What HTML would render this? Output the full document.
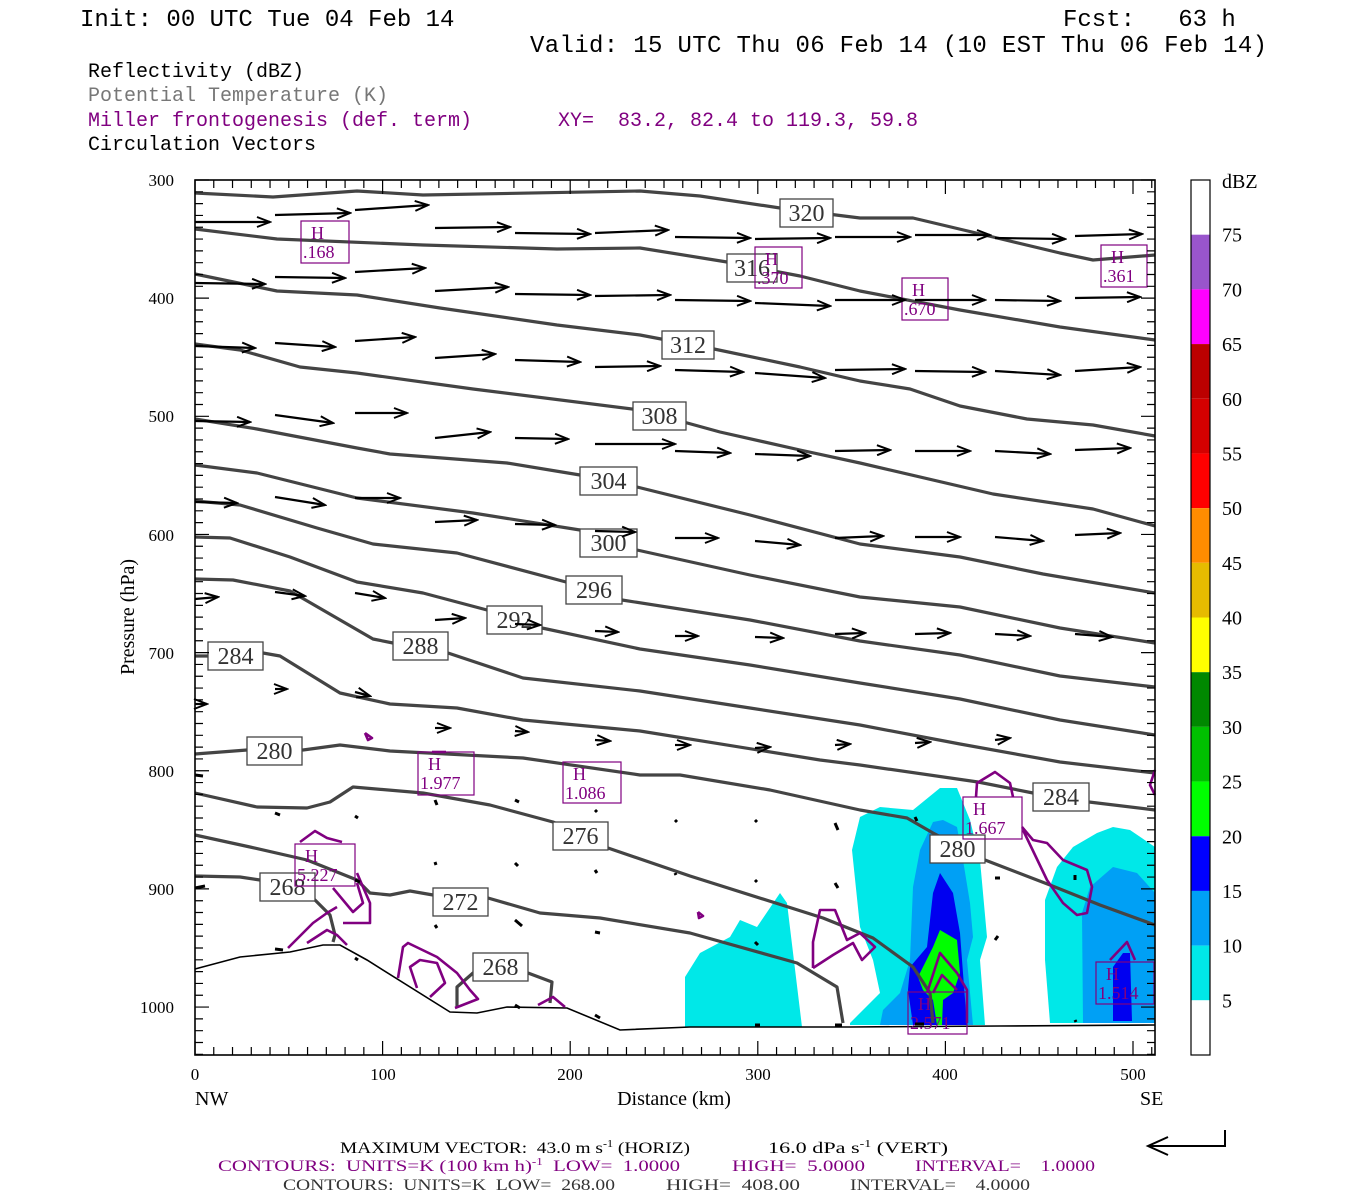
<!DOCTYPE html>
<html><head><meta charset="utf-8">
<style>
html,body{margin:0;padding:0;background:#fff;}
svg{display:block;}
svg text{white-space:pre;}
.hd{font-family:"Liberation Mono",monospace;}
.sr{font-family:"Liberation Serif",serif;}
</style></head>
<body>
<svg id="s" width="1350" height="1200" viewBox="0 0 1350 1200" xmlns="http://www.w3.org/2000/svg" xml:space="preserve">
<defs>
<marker id="ah" markerWidth="16" markerHeight="12" refX="14" refY="6" orient="auto" markerUnits="userSpaceOnUse">
<path d="M1,1 L14,6 L1,11" fill="none" stroke="#000" stroke-width="2"/>
</marker>
</defs>
<rect width="1350" height="1200" fill="#fff"/>
<g class="hd" font-size="24">
<text x="80" y="26" fill="#000">Init: 00 UTC Tue 04 Feb 14</text>
<text x="1063" y="26" fill="#000">Fcst:   63 h</text>
<text x="530" y="52" fill="#000" textLength="737">Valid: 15 UTC Thu 06 Feb 14 (10 EST Thu 06 Feb 14)</text>
</g>
<g class="hd" font-size="20">
<text x="88" y="77" fill="#000">Reflectivity (dBZ)</text>
<text x="88" y="101" fill="#777">Potential Temperature (K)</text>
<text x="88" y="126" fill="#800080">Miller frontogenesis (def. term)</text>
<text x="558" y="126" fill="#800080">XY=  83.2, 82.4 to 119.3, 59.8</text>
<text x="88" y="150" fill="#000">Circulation Vectors</text>
</g>

<g stroke="none">
<polygon fill="#00e8e8" points="685,977 700,953 730,937 740,920 757,927 780,893 787,903 802,1027 685,1027"/>
<polygon fill="#00e8e8" points="850,1023 880,993 873,960 860,927 852,850 860,817 880,807 913,810 940,788 957,788 970,820 980,860 987,937 980,960 985,1025 850,1025"/>
<polygon fill="#00a0f5" points="883,1010 900,993 910,960 913,887 920,850 933,822 943,820 957,827 963,860 970,903 973,937 967,960 973,1025 880,1025"/>
<polygon fill="#0000f0" points="908,990 910,967 927,947 933,893 940,873 953,893 960,933 963,973 967,1025 913,1025"/>
<polygon fill="#00ff00" points="918,977 933,947 940,930 957,940 960,973 953,993 943,1000 942,1025 937,1025 933,1000 923,990"/>
<polygon fill="#00e8e8" points="1045,900 1057,867 1073,847 1097,833 1113,827 1130,830 1155,847 1155,1023 1050,1023 1045,960"/>
<polygon fill="#00a0f5" points="1082,913 1090,887 1113,867 1137,873 1155,893 1155,1023 1083,1023"/>
<polygon fill="#0000f0" points="1113,967 1123,953 1130,953 1132,1021 1113,1021"/>
</g>

<polyline fill="none" stroke="#000" stroke-width="1.6" points="195,969 240,957 290,952 323,945 340,945 367,960 450,1012 477,1013 507,1007 567,1008 620,1030 690,1027 850,1027 1000,1026 1155,1025"/>

<g fill="none" stroke="#444" stroke-width="3.2" stroke-linejoin="round">
<polyline points="195,193 273,197 357,191 423,195 640,191 700,196 780,208 860,218 913,218 993,237 1060,253 1093,260 1155,255"/>
<polyline points="195,229 277,239 423,245 557,249 640,248 727,262 800,276 860,291 960,310 1060,327 1155,340"/>
<polyline points="195,274 277,291 357,295 440,308 557,325 640,335 714,349 800,367 860,381 910,389 960,406 1027,419 1093,425 1155,436"/>
<polyline points="195,344 240,350 300,367 357,373 473,389 640,410 720,432 800,450 860,463 993,494 1093,509 1155,526"/>
<polyline points="195,419 257,429 357,448 390,454 507,463 580,475 637,487 750,515 860,544 960,557 1043,574 1155,593"/>
<polyline points="195,465 257,473 357,498 473,513 580,530 637,550 750,575 860,597 960,607 1060,628 1155,643"/>
<polyline points="195,501 240,505 317,528 373,544 457,553 566,582 622,600 750,620 860,641 960,655 1060,676 1155,687"/>
<polyline points="195,537 230,538 290,557 357,582 423,593 487,610 542,628 640,649 750,665 860,683 960,699 1060,720 1155,735"/>
<polyline points="195,579 233,580 290,591 373,639 393,643 448,653 523,678 640,691 750,708 860,725 960,744 1060,762 1155,773"/>
<polyline points="195,656 208,656 263,653 280,656 340,693 390,704 457,708 523,720 640,731 820,760 860,765 978,782 1033,793 1089,802 1155,810"/>
<polyline points="195,754 247,750 303,750 340,745 390,751 523,758 640,775 680,775 770,790 860,810 907,818 933,833 985,860 1050,885 1100,905 1155,925"/>
<polyline points="195,793 257,807 307,808 330,802 353,787 423,793 490,805 553,822 608,848 690,876 823,918 873,938 913,967 930,993 933,1023"/>
<polyline points="195,835 250,847 307,860 357,880 370,893 390,895 410,891 433,895 488,898 540,913 600,918 690,933 797,963 837,987 843,1023"/>
<polyline points="195,876 240,877 260,880 315,900 330,915 335,935 333,942"/>
<polyline points="457,1007 457,987 473,973 528,973 552,982 550,1003"/>
</g>

<g fill="none" stroke="#800080" stroke-width="2.6" stroke-linejoin="round">
<polyline points="813,968 813,942 820,910 835,910 847,940 860,933 875,947 862,960 853,943 833,955 813,968"/>
<polyline points="976,797 977,783 995,772 1010,783 1013,797"/>
<polyline points="1022,827 1033,840 1047,843 1063,860 1087,870 1092,887 1087,913 1077,915 1063,903 1047,880 1023,830"/>
<polyline points="927,993 940,953 957,973 967,990 967,1023"/>
<polyline points="933,993 942,975 957,990"/>
<polyline points="1110,960 1127,942 1135,960"/>
<polyline points="1155,770 1150,785 1155,795"/>
<polyline points="300,842 315,831 327,838 342,842"/>
<polyline points="288,948 313,923 327,913 337,907"/>
<polyline points="307,943 327,930 337,935 347,945"/>
<polyline points="333,888 353,912 363,903 357,883"/>
<polyline points="343,923 370,923 370,903 363,887 357,873"/>
<polyline points="398,978 403,947 408,943 437,957 457,973 470,990 478,999 455,1008"/>
<polyline points="417,988 410,967 420,960 437,963 445,983 430,997"/>
<polyline points="538,1005 553,997 565,1007"/>
<polyline points="365,733 372,738 368,740 365,733"/>
<polyline points="698,912 703,916 699,918 698,912"/>
<polyline points="432,752 446,752"/>
</g>

<g class="sr" font-size="24" fill="#333" text-anchor="middle">
<g id="labs"></g>
</g>

<g id="hb" class="sr" font-size="18" fill="#800080"></g>

<g id="arr" stroke="#000" stroke-width="2.2" fill="none"></g>

<rect x="195" y="180" width="960" height="875" fill="none" stroke="#000" stroke-width="1.6"/>
<g id="ticks" stroke="#000" stroke-width="1.2"></g>
<g class="sr" font-size="17" fill="#000" text-anchor="end">
<text x="174" y="186">300</text><text x="174" y="304">400</text><text x="174" y="422">500</text>
<text x="174" y="541">600</text><text x="174" y="659">700</text><text x="174" y="777">800</text>
<text x="174" y="895">900</text><text x="174" y="1013">1000</text>
</g>
<g class="sr" font-size="17" fill="#000" text-anchor="middle">
<text x="195" y="1080">0</text><text x="383" y="1080">100</text><text x="570" y="1080">200</text>
<text x="758" y="1080">300</text><text x="945" y="1080">400</text><text x="1133" y="1080">500</text>
</g>
<g class="sr" font-size="20" fill="#000">
<text x="195" y="1105">NW</text><text x="1140" y="1105">SE</text>
<text x="674" y="1105" text-anchor="middle">Distance (km)</text>
<text transform="translate(134,617) rotate(-90)" text-anchor="middle">Pressure (hPa)</text>
</g>

<g id="cb"></g>
<g class="sr" font-size="20" fill="#000">
<text x="1222" y="188">dBZ</text>
</g>
<g id="cbl" class="sr" font-size="20" fill="#000"></g>

<g class="sr" font-size="16">
<text x="340" y="1153" fill="#000" textLength="350" lengthAdjust="spacingAndGlyphs">MAXIMUM VECTOR:  43.0 m s<tspan dy="-6" font-size="10">-1</tspan><tspan dy="6"> (HORIZ)</tspan></text>
<text x="768" y="1153" fill="#000" textLength="180" lengthAdjust="spacingAndGlyphs">16.0 dPa s<tspan dy="-6" font-size="10">-1</tspan><tspan dy="6"> (VERT)</tspan></text>
<text x="218" y="1171" fill="#800080" textLength="462" lengthAdjust="spacingAndGlyphs">CONTOURS:  UNITS=K (100 km h)<tspan dy="-6" font-size="10">-1</tspan><tspan dy="6">  LOW=  1.0000</tspan></text>
<text x="732" y="1171" fill="#800080" textLength="133" lengthAdjust="spacingAndGlyphs">HIGH=  5.0000</text>
<text x="915" y="1171" fill="#800080" textLength="180" lengthAdjust="spacingAndGlyphs">INTERVAL=    1.0000</text>
<text x="283" y="1190" fill="#333" textLength="332" lengthAdjust="spacingAndGlyphs">CONTOURS:  UNITS=K  LOW=  268.00</text>
<text x="666" y="1190" fill="#333" textLength="134" lengthAdjust="spacingAndGlyphs">HIGH=  408.00</text>
<text x="850" y="1190" fill="#333" textLength="180" lengthAdjust="spacingAndGlyphs">INTERVAL=    4.0000</text>
</g>
<polyline points="1225,1130 1225,1146 1148,1146" fill="none" stroke="#000" stroke-width="2"/>
<polyline points="1168,1137 1148,1146 1168,1155" fill="none" stroke="#000" stroke-width="2"/>
</svg>
<script>
var NS="http://www.w3.org/2000/svg";
function el(p,t,a,txt){var e=document.createElementNS(NS,t);for(var k in a)e.setAttribute(k,a[k]);if(txt!==undefined)e.textContent=txt;p.appendChild(e);return e;}
var L=[["320",780,199,53],["316",727,254,50],["312",662,331,52],["308",633,402,53],["304",580,467,57],["300",580,529,57],["296",566,576,56],["292",487,606,55],["288",393,632,55],["284",208,642,55],["280",247,737,55],["284",1033,783,56],["280",930,835,55],["276",553,822,55],["272",433,888,55],["268",260,873,55],["268",473,953,55]];
var lg=document.getElementById("labs");
L.forEach(function(l){el(lg,"rect",{x:l[1],y:l[2],width:l[3],height:28,fill:"#fff",stroke:"#444","stroke-width":1.3});el(lg,"text",{x:l[1]+l[3]/2,y:l[2]+22},l[0]);});
var H=[[".168",301,221,48,42],[".370",755,247,47,41],[".670",902,278,46,42],[".361",1101,245,46,42],["1.977",418,752,56,43],["1.086",563,762,58,41],["5.227",295,844,60,42],["1.667",963,797,59,42],["2.571",908,992,59,42],["1.514",1096,962,58,42]];
var hb=document.getElementById("hb");
H.forEach(function(h){el(hb,"rect",{x:h[1],y:h[2],width:h[3],height:h[4],fill:"none",stroke:"#800080","stroke-width":1.2});el(hb,"text",{x:h[1]+10,y:h[2]+18},"H");el(hb,"text",{x:h[1]+2,y:h[2]+37},h[0]);});
var A=[
[195,222,270,222],[275,215,350,213],[355,210,428,205],[435,228,510,227],[515,233,590,234],[595,233,668,230],[675,237,750,238],[755,239,830,238],[835,237,910,237],[915,235,990,235],[995,238,1065,239],[1075,236,1142,234],
[195,283,265,284],[275,277,345,278],[355,272,425,268],[435,291,508,287],[515,294,590,295],[595,296,670,295],[675,300,750,301],[755,303,830,306],[835,300,905,300],[915,300,985,300],[995,300,1060,301],[1075,298,1140,297],
[195,346,255,348],[275,343,335,347],[355,341,415,337],[435,358,495,354],[515,360,580,362],[595,367,660,366],[675,370,743,372],[755,373,825,378],[835,370,905,369],[915,371,985,372],[995,371,1060,375],[1075,371,1140,367],
[195,421,250,422],[275,415,333,423],[355,413,407,413],[435,438,490,432],[515,438,568,439],[595,444,675,444],[675,451,730,453],[755,454,810,456],[835,451,890,450],[915,451,970,451],[995,451,1050,454],[1075,450,1130,448],
[195,502,237,503],[275,497,325,505],[355,498,400,498],[435,522,477,520],[515,524,555,525],[595,531,635,532],[675,538,718,538],[755,541,800,545],[835,538,883,536],[915,537,960,537],[995,537,1043,541],[1075,535,1120,533],
[195,599,218,597],[275,592,305,596],[355,593,385,598],[435,620,465,618],[515,624,540,625],[595,631,618,632],[675,636,698,636],[755,637,783,638],[835,634,865,633],[915,634,950,633],[995,634,1030,636],[1075,634,1112,637],
[195,704,207,704],[275,689,287,689],[355,692,370,696],[435,728,450,728],[515,731,528,732],[595,740,610,741],[675,745,690,745],[755,748,770,747],[835,745,850,744],[915,743,930,742],[995,740,1010,738]];
var ag=document.getElementById("arr");
A.forEach(function(a){el(ag,"line",{x1:a[0],y1:a[1],x2:a[2],y2:a[3],"marker-end":"url(#ah)"});});
var D=[[195,775,203,776],[195,888,205,886],[275,813,280,815],[355,816,358,818],[435,800,437,805],[515,800,519,802],[595,810,597,812],[675,820,677,822],[755,820,757,822],[835,823,838,830],[915,817,917,821],[435,862,436,865],[515,863,518,866],[595,870,597,873],[675,873,676,875],[755,880,757,882],[835,883,838,888],[995,878,1000,878],[1075,875,1075,880],[355,880,360,882],[435,925,437,928],[515,920,522,926],[595,932,600,933],[755,942,758,945],[995,940,998,936],[275,949,283,950],[355,958,358,960],[595,1015,600,1018],[515,1005,520,1008],[755,1025,760,1025],[835,1025,842,1025],[915,1024,924,1024],[1075,1020,1076,1022]];
D.forEach(function(a){el(ag,"line",{x1:a[0],y1:a[1],x2:a[2],y2:a[3],"stroke-width":3});});
var tg=document.getElementById("ticks");var d="";
for(var p=300;p<=1040;p+=10){var y=180+(p-300)*118.15/100;if(y>1055)break;var len=(p%100==0)?14:8;d+="M195,"+y+"h"+len+"M1155,"+y+"h-"+len;}
for(var k=0;k<=510;k+=10){var x=195+k*1.876;if(x>1155)break;var len2=(k%100==0)?14:8;d+="M"+x+",1055v-"+len2+"M"+x+",180v"+len2;}
el(tg,"path",{d:d,fill:"none"});
var C=["#fff","#9955cc","#ff00ff","#bb0000","#d40000","#ff0000","#ff8c00","#e6bb00","#ffff00","#008800","#00c000","#00ff00","#0000ff","#00a0f5","#00e8e8","#fff"];
var cb=document.getElementById("cb");var h=875/16;
C.forEach(function(c,i){el(cb,"rect",{x:1191,y:180+i*h,width:19,height:h,fill:c});});
el(cb,"rect",{x:1191,y:180,width:19,height:875,fill:"none",stroke:"#000","stroke-width":1.2});
var cl=document.getElementById("cbl");
for(var i=1;i<=15;i++){el(cl,"text",{x:1222,y:180+i*h+7},String(80-5*i));}
</script>
</body></html>
